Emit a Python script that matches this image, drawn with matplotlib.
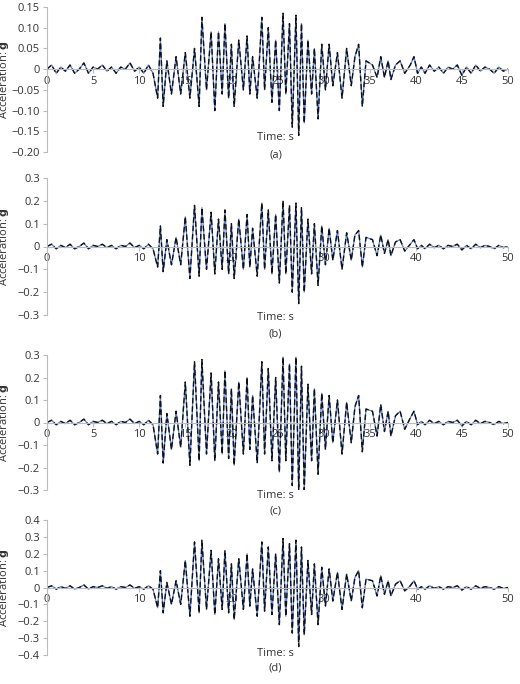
import numpy as np
import matplotlib
matplotlib.use("Agg")
import matplotlib.pyplot as plt

plt.rcParams['font.family'] = ['Open Sans', 'DejaVu Sans']

# quiet segments (units 0.01 g)
t_pre = [0, 0.5, 1, 1.5, 2, 2.5, 3, 3.5, 4, 4.5, 5, 5.5, 6, 6.5, 7, 7.5, 8, 8.5, 9, 9.5, 10, 10.5, 11, 11.5]
v_pre = [0, 1, -1, 0.5, -0.5, 1, -1, 0, 1.5, -1, 0.5, 0, 1, -0.5, 0.5, -1, 0.5, 0, 1.5, -0.5, 0.5, -1, 1, -1]
t_act = [12, 12.3, 12.6, 13, 13.5, 14, 14.5, 15, 15.5, 16, 16.5, 16.8, 17.3, 17.8, 18.2, 18.6, 19, 19.3, 19.7,
         20, 20.3, 20.8, 21.3, 21.7, 22, 22.3, 22.8, 23.3, 23.6, 24, 24.4, 24.8, 25.2, 25.6, 25.9, 26.3, 26.6,
         27, 27.3, 27.6, 27.9, 28.3, 28.7, 29, 29.4, 29.8, 30.2, 30.6, 31, 31.5, 32, 32.5, 33, 33.4, 33.8,
         34.2, 34.6, 35.3, 35.8, 36.2, 36.6, 37, 37.3, 37.8, 38.3, 38.8, 39.4, 39.8, 40.2]
t_post = [40.6, 41, 41.5, 42, 42.5, 43, 43.5, 44, 44.5, 45, 45.5, 46, 46.5, 47, 47.5, 48, 48.5, 49, 49.5, 50]
v_post = [0.5, -1, 1, -0.5, 0.5, -1, 0.5, 0, 1, -1.5, 0.5, -1, 1, -0.5, 0.5, 0, -1, 0.5, -0.5, 0]

v_a = [-7, 7.5, -9, 2, -6, 3, -6, 4, -7, 5, -9, 12.5, -5, 9, -10, 9, -6, 11, -7,
       6, -9, 7, -5, 8, -6, 3, -7, 12.5, -5, 10, -8, 7, -10, 13.5, -6, 11, -14,
       13, -16, 11, -13, 7, -6, 5, -12, 6, -5, 6, -4, 4, -7, 5, -4, 3, 6,
       -9, 2, 1, -2, 3, -2, 2, -2.5, 1, 2, -1, 1, 3, -1]
v_b = [-9, 9, -11, 3, -8, 4, -8, 13, -14, 18, -13, 17, -10, 15, -12, 12, -10, 16, -12,
       10, -14, 12, -10, 14, -9, 8, -13, 19, -10, 16, -12, 14, -16, 20, -12, 18, -20,
       19, -25, 17, -20, 12, -12, 10, -17, 9, -8, 8, -6, 7, -10, 6, -6, 5, 7,
       -9, 4, 3, -4, 5, -3, 3, -4, 2, 3, -2, 1, 3, -1]
v_c = [-14, 12, -18, 4, -12, 5, -11, 18, -19, 27, -17, 28, -14, 22, -17, 18, -14, 23, -16,
       15, -19, 18, -14, 20, -12, 12, -18, 27, -14, 24, -17, 20, -22, 29, -17, 26, -28,
       29, -30, 25, -30, 17, -17, 15, -23, 13, -12, 12, -9, 10, -14, 9, -9, 7, 12,
       -13, 6, 5, -6, 8, -4, 5, -6, 3, 5, -3, 2, 5, -1]
v_d = [-12, 10, -15, 3, -10, 4, -10, 16, -17, 27, -15, 28, -13, 22, -16, 17, -13, 22, -15,
       14, -19, 17, -13, 20, -11, 11, -17, 27, -14, 24, -16, 20, -22, 29, -17, 26, -27,
       28, -35, 24, -28, 16, -16, 14, -22, 12, -11, 11, -8, 9, -13, 8, -8, 6, 10,
       -12, 5, 4, -5, 7, -4, 4, -5, 2, 4, -2, 1, 4, -1]

panels = [
    (v_a, (-0.2, 0.15), [-0.20, -0.15, -0.10, -0.05, 0, 0.05, 0.10, 0.15],
     ['−0.20', '−0.15', '−0.10', '−0.05', '0', '0.05', '0.10', '0.15'], '(a)', 152, 138, 155),
    (v_b, (-0.3, 0.3), [-0.3, -0.2, -0.1, 0, 0.1, 0.2, 0.3],
     ['−0.3', '−0.2', '−0.1', '0', '0.1', '0.2', '0.3'], '(b)', 315, 318, 334),
    (v_c, (-0.3, 0.3), [-0.3, -0.2, -0.1, 0, 0.1, 0.2, 0.3],
     ['−0.3', '−0.2', '−0.1', '0', '0.1', '0.2', '0.3'], '(c)', 490, 495, 511),
    (v_d, (-0.4, 0.4), [-0.4, -0.3, -0.2, -0.1, 0, 0.1, 0.2, 0.3, 0.4],
     ['−0.4', '−0.3', '−0.2', '−0.1', '0', '0.1', '0.2', '0.3', '0.4'], '(d)', 655, 653, 668),
]
tops = [7, 178, 355, 520]

fig = plt.figure(figsize=(5.2, 6.84), dpi=100)
W, H = 520, 684
t_all = np.array(t_pre + t_act + t_post)
for (vals, ylim, yt, ytl, lab, bot, ty, ly), top in zip(panels, tops):
    ax = fig.add_axes([47 / W, 1 - bot / H, 461 / W, (bot - top) / H])
    v = np.array(v_pre + vals + v_post) / 100.0
    ax.plot(t_all, v, color='#5b7fd6', lw=0.9)
    ax.plot(t_all, v, color='#111111', lw=1.0, dashes=(4, 2))
    ax.set_xlim(0, 50)
    ax.set_ylim(*ylim)
    ax.set_yticks(yt)
    ax.set_yticklabels(ytl)
    ax.set_xticks(range(0, 51, 5) if lab in ('(a)', '(c)') else range(0, 51, 10))
    for s in ('top', 'right'):
        ax.spines[s].set_visible(False)
    ax.spines['bottom'].set_position(('data', 0))
    for s in ('left', 'bottom'):
        ax.spines[s].set_color('#bbbbbb')
    ax.tick_params(colors='#bbbbbb', labelcolor='#333333', labelsize=8, length=3, pad=2)
    ax.patch.set_alpha(0)
    ax.set_ylabel('Acceleration: $\\mathbf{g}$', fontsize=8, color='#333333')
    ax.yaxis.set_label_coords(-0.078, 0.5)
    fig.text(0.53, 1 - ty / H, 'Time: s', ha='center', va='center', fontsize=8, color='#333333')
    fig.text(0.53, 1 - ly / H, lab, ha='center', va='center', fontsize=8, color='#333333')

fig.savefig('out.png', dpi=100)
